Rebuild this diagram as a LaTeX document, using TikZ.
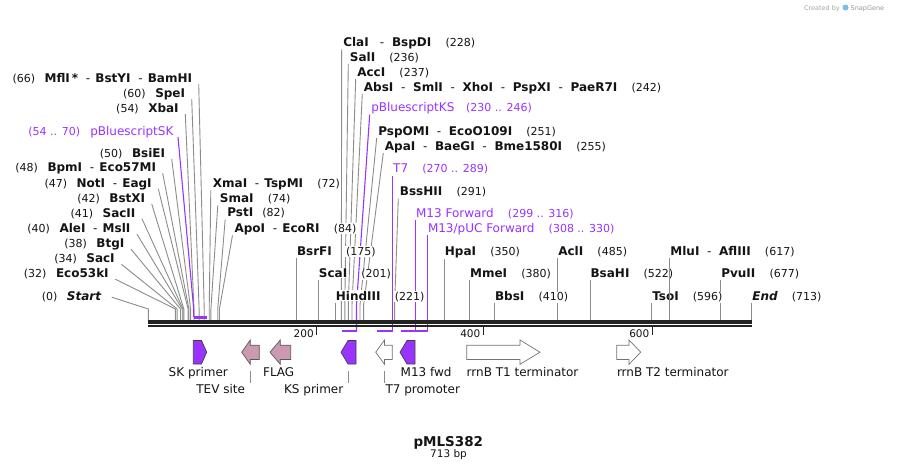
\documentclass[tikz,border=0pt]{standalone}
\usepackage{fontspec}
\setmainfont{DejaVu Sans}
\usetikzlibrary{calc}
\definecolor{lc}{RGB}{140,140,140}
\definecolor{pur}{RGB}{153,51,255}
\definecolor{fpk}{RGB}{204,153,179}
\definecolor{bbc}{RGB}{34,34,34}
\definecolor{txt}{RGB}{20,20,20}
\definecolor{sgblue}{RGB}{120,190,235}
\setlength{\fboxsep}{0.6pt}
\newcommand\xEnz[1]{\colorbox{white}{\fontsize{12}{14}\selectfont\bfseries #1}}
\newcommand\xEnzI[1]{\colorbox{white}{\fontsize{12}{14}\selectfont\bfseries\itshape #1}}
\newcommand\xNum[1]{\colorbox{white}{\fontsize{11}{13}\selectfont #1}}
\newcommand\xPrm[1]{\colorbox{white}{\fontsize{12}{14}\selectfont #1}}
\newcommand\xDsh{\colorbox{white}{\fontsize{12}{14}\selectfont -}}
\newcommand\gA{\hspace{8.3pt}}
\newcommand\gB{\hspace{6.5pt}}
\newcommand\gC{\hspace{4pt}}
\newcommand\gD{\hspace{13pt}}
\pgfdeclarelayer{bg}
\pgfsetlayers{bg,main}
\tikzset{
  lbl/.style={inner sep=0pt, outer sep=0pt, text=txt},
  plbl/.style={inner sep=0pt, outer sep=0pt, text=pur},
  flbl/.style={inner sep=0pt, outer sep=0pt, text=txt, font=\fontsize{12}{14}\selectfont},
  ln/.style={draw=lc, line width=0.9pt},
  pln/.style={draw=pur, line width=1.1pt},
  pbar/.style={draw=pur, line width=2.2pt},
  fpur/.style={fill=pur, draw=black!75, line width=0.7pt},
  fpink/.style={fill=fpk, draw=black!65, line width=0.7pt},
  fwhite/.style={fill=white, draw=black!55, line width=0.7pt},
  tk/.style={draw=bbc, line width=1.4pt},
  ftk/.style={draw=lc, line width=0.9pt}
}
\begin{document}
\begin{tikzpicture}[x=1pt,y=-1pt]
\begin{pgfonlayer}{bg}
\fill[white] (0,0) rectangle (900,471);
\end{pgfonlayer}
\useasboundingbox (0,0) rectangle (900,471);

\coordinate (kneeL) at (0,309);
\coordinate (kneeM) at (0,305);
\coordinate (bbT) at (0,320.5);
\coordinate (barB) at (0,331);

% ---------- left column labels ----------
\node[lbl,anchor=base east] (mfl) at (192.7,82.5) {\xNum{(66)}\gA\xEnz{MflI\,*}\gB\xDsh\gC\xEnz{BstYI}\gB\xDsh\gC\xEnz{BamHI}};
\node[lbl,anchor=base east] (spe) at (185.7,97.3) {\xNum{(60)}\gA\xEnz{SpeI}};
\node[lbl,anchor=base east] (xba) at (179.3,112.7) {\xNum{(54)}\gA\xEnz{XbaI}};
\node[plbl,anchor=base east] (psk) at (174,135) {\xNum{(54 .. 70)}\hspace{9pt}\xPrm{pBluescriptSK}};
\node[lbl,anchor=base east] (bsie) at (165.7,157.3) {\xNum{(50)}\gA\xEnz{BsiEI}};
\node[lbl,anchor=base east] (bpm) at (156.7,171.7) {\xNum{(48)}\gA\xEnz{BpmI}\gB\xDsh\gC\xEnz{Eco57MI}};
\node[lbl,anchor=base east] (notl) at (152.3,187.3) {\xNum{(47)}\gA\xEnz{NotI}\gB\xDsh\gC\xEnz{EagI}};
\node[lbl,anchor=base east] (bstx) at (145.7,202.3) {\xNum{(42)}\gA\xEnz{BstXI}};
\node[lbl,anchor=base east] (sacii) at (136,217.3) {\xNum{(41)}\gA\xEnz{SacII}};
\node[lbl,anchor=base east] (ale) at (131,232.7) {\xNum{(40)}\gA\xEnz{AleI}\gB\xDsh\gC\xEnz{MslI}};
\node[lbl,anchor=base east] (btg) at (125,247.7) {\xNum{(38)}\gA\xEnz{BtgI}};
\node[lbl,anchor=base east] (saci) at (115.3,262.7) {\xNum{(34)}\gA\xEnz{SacI}};
\node[lbl,anchor=base east] (eco) at (109.3,277.7) {\xNum{(32)}\gA\xEnz{Eco53kI}};
\node[lbl,anchor=base east] (start) at (101.7,300.7) {\xNum{(0)}\gA\xEnzI{Start}};

% ---------- middle-left labels ----------
\node[lbl,anchor=base west] (xma) at (212.3,187.3) {\xEnz{XmaI}\gB\xDsh\gC\xEnz{TspMI}\gD\xNum{(72)}};
\node[lbl,anchor=base west] (sma) at (219.3,202.3) {\xEnz{SmaI}\gD\xNum{(74)}};
\node[lbl,anchor=base west] (pst) at (226.7,216.7) {\xEnz{PstI}\hspace{8pt}\xNum{(82)}};
\node[lbl,anchor=base west] (apo) at (234,232.3) {\xEnz{ApoI}\gB\xDsh\gC\xEnz{EcoRI}\gD\xNum{(84)}};

% ---------- upper-middle labels ----------
\node[lbl,anchor=base west] (cla) at (342.7,46) {\xEnz{ClaI}\hspace{10pt}\xDsh\gB\xEnz{BspDI}\gD\xNum{(228)}};
\node[lbl,anchor=base west] (sal) at (349.3,61) {\xEnz{SalI}\gD\xNum{(236)}};
\node[lbl,anchor=base west] (acc) at (356.7,76) {\xEnz{AccI}\gD\xNum{(237)}};
\node[lbl,anchor=base west] (abs) at (363.3,91) {\xEnz{AbsI}\gB\xDsh\gB\xEnz{SmlI}\gB\xDsh\gB\xEnz{XhoI}\gB\xDsh\gB\xEnz{PspXI}\gB\xDsh\gB\xEnz{PaeR7I}\gD\xNum{(242)}};
\node[plbl,anchor=base west] (pks) at (370.7,111.7) {\xPrm{pBluescriptKS}\hspace{10.5pt}\xNum{(230 .. 246)}};
\node[lbl,anchor=base west] (psp) at (377.7,135) {\xEnz{PspOMI}\gB\xDsh\gB\xEnz{EcoO109I}\gD\xNum{(251)}};
\node[lbl,anchor=base west] (apa) at (384.3,150) {\xEnz{ApaI}\gB\xDsh\gB\xEnz{BaeGI}\gB\xDsh\gB\xEnz{Bme1580I}\gD\xNum{(255)}};
\node[plbl,anchor=base west] (t7) at (392.6,172.7) {\xPrm{T7}\gD\xNum{(270 .. 289)}};
\node[lbl,anchor=base west] (bss) at (399.3,195.7) {\xEnz{BssHII}\gD\xNum{(291)}};
\node[plbl,anchor=base west] (m13f) at (415.5,217.3) {\xPrm{M13 Forward}\gD\xNum{(299 .. 316)}};
\node[plbl,anchor=base west] (m13p) at (427.4,232.3) {\xPrm{M13/pUC Forward}\gD\xNum{(308 .. 330)}};

% ---------- lower labels (vertical leaders) ----------
\node[lbl,anchor=base west] (bsrf) at (296.4,255) {\xEnz{BsrFI}\gD\xNum{(175)}};
\node[lbl,anchor=base west] (sca) at (318.3,277.7) {\xEnz{ScaI}\gD\xNum{(201)}};
\node[lbl,anchor=base west] (hind) at (335.3,300) {\xEnz{HindIII}\gD\xNum{(221)}};
\node[lbl,anchor=base west] (hpa) at (444.3,255.5) {\xEnz{HpaI}\gD\xNum{(350)}};
\node[lbl,anchor=base west] (mme) at (469.5,277.5) {\xEnz{MmeI}\gD\xNum{(380)}};
\node[lbl,anchor=base west] (bbs) at (494.5,300.5) {\xEnz{BbsI}\gD\xNum{(410)}};
\node[lbl,anchor=base west] (acl) at (557.7,255.5) {\xEnz{AclI}\gD\xNum{(485)}};
\node[lbl,anchor=base west] (bsah) at (590,277.5) {\xEnz{BsaHI}\gD\xNum{(522)}};
\node[lbl,anchor=base west] (tso) at (651.7,300.5) {\xEnz{TsoI}\gD\xNum{(596)}};
\node[lbl,anchor=base west] (mlu) at (669.8,255.5) {\xEnz{MluI}\gB\xDsh\gB\xEnz{AflIII}\gD\xNum{(617)}};
\node[lbl,anchor=base west] (pvu) at (720.7,277.5) {\xEnz{PvuII}\gD\xNum{(677)}};
\node[lbl,anchor=base west] (endl) at (751.7,300.5) {\xEnzI{End}\gD\xNum{(713)}};

% ---------- leader lines (behind labels) ----------
\begin{pgfonlayer}{bg}
\foreach \n/\s in {mfl/204.2,spe/199.1,xba/194.0,bsie/190.6,bpm/188.9,notl/188.1,bstx/183.8,sacii/183.0,ale/182.2,btg/180.5,saci/177.1,eco/175.4}{
  \coordinate (st\n) at (\s,320.5);
  \draw[ln] ([xshift=6pt,yshift=-1.5pt]\n.base east) -- (st\n |- kneeL) -- (st\n);
}
\coordinate (ststart) at (148.3,320.5);
\draw[ln] ([xshift=10pt,yshift=3.5pt]start.base east) -- (ststart |- kneeL) -- (ststart);
\coordinate (pskbar) at (193.7,317);
\draw[pln] ([xshift=4pt,yshift=-2pt]psk.base east) -- (pskbar |- kneeL) -- (pskbar);

\foreach \n/\s in {xma/209.2,sma/210.9,pst/217.7,apo/219.4}{
  \coordinate (st\n) at (\s,320.5);
  \draw[ln] ([xshift=-1.5pt,yshift=-3pt]\n.base west) -- (st\n |- kneeL) -- (st\n);
}
\foreach \n/\s in {cla/341.3,sal/344.8,acc/348.3,abs/352.0,psp/360.0,apa/363.6,bss/394.6}{
  \coordinate (st\n) at (\s,320.5);
  \draw[ln] ([xshift=-1pt,yshift=-3pt]\n.base west) -- (st\n |- kneeM) -- (st\n);
}
\coordinate (pksbar) at (356.5,331);
\draw[pln] ([xshift=-1pt,yshift=-3pt]pks.base west) -- (pksbar |- kneeM) -- (pksbar);
\foreach \n in {t7,m13f,m13p}{
  \draw[pln] ([yshift=-3pt]\n.base west) -- (\n.base west |- barB);
}
\foreach \n in {bsrf,sca,hind,hpa,mme,bbs,acl,bsah,tso,pvu,endl}{
  \draw[ln] ([yshift=-2.5pt]\n.base west) -- (\n.base west |- bbT);
}
\end{pgfonlayer}
\draw[ln] ([yshift=-2.5pt]mlu.base west) -- (mlu.base west |- bbT);

% ---------- backbone ----------
\coordinate (bbL) at (148.3,322);
\coordinate (bbR) at (751.7,322);
\draw[bbc, line width=3.2pt] (bbL) -- (bbR);
\draw[bbc, line width=2pt] ([yshift=-4.2pt]bbL) -- ([yshift=-4.2pt]bbR);

% feature bars
\draw[pbar] (193.7,317.4) -- (207.3,317.4);
\draw[pbar] (341.7,331) -- (356.5,331);
\draw[pbar] (376.8,331) -- (392.9,331);
\draw[pbar] (400.5,331) -- (427.6,331);

% ruler ticks
\coordinate (t200) at (316.7,327);
\coordinate (t400) at (483.3,327);
\coordinate (t600) at (652.3,327);
\foreach \t/\v in {t200/200,t400/400,t600/600}{
  \draw[tk] (\t) -- ([yshift=-7.5pt]\t);
  \node[lbl,anchor=base east,font=\fontsize{10.5}{12}\selectfont] (lab\t) at ([xshift=-3pt,yshift=-10pt]\t) {\v};
}

% ---------- features ----------
\path[fpur] (193.3,340.5) -- (201.5,340.5) -- (206.7,352.2) -- (201.5,364) -- (193.3,364) -- cycle;
\path[fpink] (241.7,352.2) -- (250.3,340) -- (250.3,345.2) -- (259.3,345.2) -- (259.3,359.5) -- (250.3,359.5) -- (250.3,364.3) -- cycle;
\path[fpink] (270,352.2) -- (280.3,340) -- (280.3,345.2) -- (290.7,345.2) -- (290.7,359.5) -- (280.3,359.5) -- (280.3,364.3) -- cycle;
\path[fpur] (341,352.2) -- (348,340.5) -- (356,340.5) -- (356,364) -- (348,364) -- cycle;
\path[fwhite] (375.7,352.2) -- (384.5,340) -- (384.5,345.2) -- (392.3,345.2) -- (392.3,359.5) -- (384.5,359.5) -- (384.5,364.3) -- cycle;
\path[fpur] (400,352.2) -- (407,340.5) -- (415,340.5) -- (415,364) -- (407,364) -- cycle;
\path[fwhite] (466.7,345.2) -- (520,345.2) -- (520,340) -- (540,352.2) -- (520,364.3) -- (520,359.5) -- (466.7,359.5) -- cycle;
\path[fwhite] (616.7,345.2) -- (629,345.2) -- (629,340) -- (640.7,352.2) -- (629,364.3) -- (629,359.5) -- (616.7,359.5) -- cycle;

\node[flbl,anchor=base] (fsk) at (198.3,376.7) {SK primer};
\node[flbl,anchor=base] (fflag) at (278.7,376.7) {FLAG};
\node[flbl,anchor=base west] (fm13) at (400.7,376.7) {M13 fwd};
\node[flbl,anchor=base west] (ft1) at (466.7,376.7) {rrnB T1 terminator};
\node[flbl,anchor=base west] (ft2) at (617,376.7) {rrnB T2 terminator};
\node[flbl,anchor=base east] (ftev) at (245,393.3) {TEV site};
\node[flbl,anchor=base east] (fks) at (343.3,393.3) {KS primer};
\node[flbl,anchor=base west] (ft7) at (385.5,393.3) {T7 promoter};
\coordinate (ktev) at (250.5,371);
\coordinate (kks) at (348.5,371);
\coordinate (kt7) at (384,371);
\foreach \k in {ktev,kks,kt7}{ \draw[ftk] (\k) -- ([yshift=-11.5pt]\k); }

% ---------- title ----------
\node[lbl,anchor=base,font=\fontsize{13.5}{15}\selectfont\bfseries] (title) at (448.3,446) {pMLS382};
\node[lbl,anchor=base,font=\fontsize{10.5}{12}\selectfont] (len) at (448.5,457.3) {713 bp};

% ---------- watermark ----------
\node[inner sep=0pt,anchor=base east,text=black!35,font=\fontsize{6.5}{7}\selectfont] (crt) at (840,10) {Created by};
\fill[sgblue] (845.5,7.5) circle (3pt);
\node[inner sep=0pt,anchor=base west,text=black!40,font=\fontsize{6.5}{7}\selectfont] (sg) at (850.5,10) {SnapGene};
\end{tikzpicture}
\end{document}
